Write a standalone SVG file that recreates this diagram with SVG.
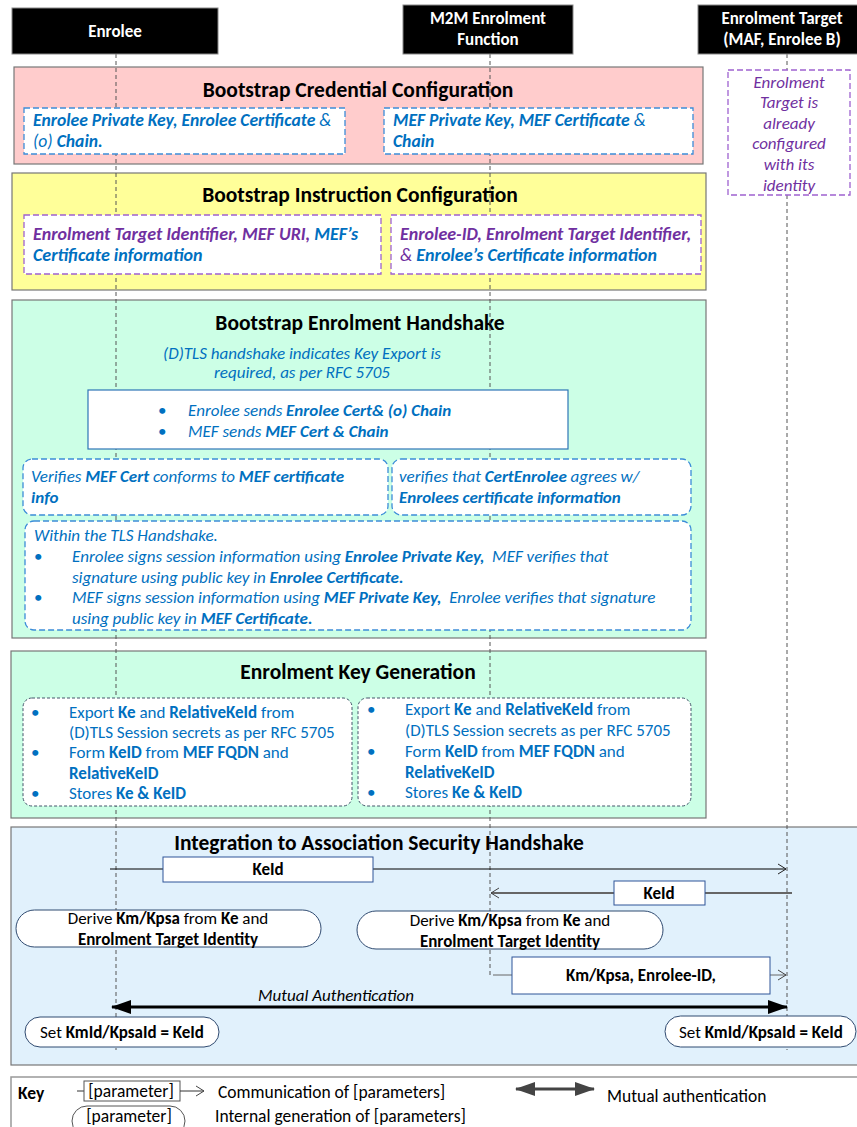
<svg xmlns="http://www.w3.org/2000/svg" width="857" height="1127" viewBox="0 0 857 1127">
<defs>
<style>
text{font-family:Carlito,Lato,"Liberation Sans",sans-serif;font-size:17px}
.b{font-weight:bold}
.i{font-style:italic}
.bi{font-size:17.6px}
.blue{fill:#0070C0}
.pur{fill:#7030A0}
.hdr{fill:#000;stroke:#888;stroke-width:1}
.hdrt{fill:#fff;font-weight:bold;font-size:17px;text-anchor:middle}
.sec{stroke:#777;stroke-width:1.2}
.title{font-weight:bold;font-size:21.5px;text-anchor:middle;fill:#000}
.life{stroke:#555;stroke-width:1;stroke-dasharray:4,3;fill:none}
.dblue{fill:#fff;stroke:#3C8DD8;stroke-width:1.3;stroke-dasharray:6,3}
.dpur{fill:#fff;stroke:#9E62D0;stroke-width:1.3;stroke-dasharray:6,3}
.dgray{fill:#fff;stroke:#44546A;stroke-width:1;stroke-dasharray:3,2}
.msg{fill:#fff;stroke:#2F5597;stroke-width:1}
.pill{fill:#fff;stroke:#2F4A70;stroke-width:1}
.c{text-anchor:middle}
.k{font-size:17.5px}
</style>
<marker id="open" viewBox="0 0 10 12" refX="9" refY="6" markerWidth="10" markerHeight="12" markerUnits="userSpaceOnUse" orient="auto">
<polyline points="1,1 9,6 1,11" fill="none" stroke="#222" stroke-width="1"/>
</marker>
<marker id="open2" viewBox="0 0 10 12" refX="9" refY="6" markerWidth="10" markerHeight="12" markerUnits="userSpaceOnUse" orient="auto">
<polyline points="1,1 9,6 1,11" fill="none" stroke="#444" stroke-width="1"/>
</marker>
<marker id="solid" viewBox="0 0 20 14" refX="19" refY="7" markerWidth="20" markerHeight="14" markerUnits="userSpaceOnUse" orient="auto-start-reverse">
<path d="M0,0 L20,7 L0,14 Z" fill="#000"/>
</marker>
<marker id="solidg" viewBox="0 0 20 14" refX="19" refY="7" markerWidth="20" markerHeight="14" markerUnits="userSpaceOnUse" orient="auto-start-reverse">
<path d="M0,0 L20,7 L0,14 Z" fill="#444"/>
</marker>
</defs>
<rect width="857" height="1127" fill="#fff"/>

<!-- Sections -->
<g id="sec-credential">
<rect class="sec" x="14" y="67" width="689" height="97" fill="#FFCCCC"/>
<text class="title" x="358" y="97">Bootstrap Credential Configuration</text>
</g>
<g id="sec-instruction">
<rect class="sec" x="12" y="173" width="694" height="117" fill="#FFFF99"/>
<text class="title" x="360" y="202">Bootstrap Instruction Configuration</text>
</g>
<g id="sec-handshake">
<rect class="sec" x="12" y="300" width="694" height="338" fill="#CCFFE6"/>
<text class="title" x="360" y="330">Bootstrap Enrolment Handshake</text>
</g>
<g id="sec-keygen">
<rect class="sec" x="11" y="651" width="695" height="167" fill="#CCFFE6"/>
<text class="title" x="358" y="679">Enrolment Key Generation</text>
</g>
<g id="sec-integration">
<rect class="sec" x="11" y="827" width="850" height="238" fill="#E1F1FC"/>
<text class="title" x="379" y="850">Integration to Association Security Handshake</text>
</g>

<!-- Lifelines -->
<g id="lifelines">
<line class="life" x1="116" y1="54" x2="116" y2="1050"/>
<line class="life" x1="490" y1="54" x2="490" y2="975"/>
<line class="life" x1="787" y1="54" x2="787" y2="70"/>
<line class="life" x1="787" y1="195" x2="787" y2="1050"/>
</g>

<!-- Headers -->
<g id="enrolee">
<rect class="hdr" x="12" y="8" width="206" height="46"/>
<text class="hdrt" x="115" y="37">Enrolee</text>
</g>
<g id="mef">
<rect class="hdr" x="403" y="5" width="170" height="49"/>
<text class="hdrt" x="488" y="24">M2M Enrolment</text>
<text class="hdrt" x="488" y="45">Function</text>
</g>
<g id="target">
<rect class="hdr" x="698" y="5" width="162" height="49"/>
<text class="hdrt" x="782" y="24">Enrolment Target</text>
<text class="hdrt" x="782" y="45">(MAF, Enrolee B)</text>
</g>

<!-- Credential boxes -->
<g id="cred-enrolee">
<rect class="dblue" x="24" y="108" width="321" height="46"/>
<text class="blue i bi" x="33" y="126"><tspan class="b">Enrolee Private Key, Enrolee Certificate</tspan> &amp;</text>
<text class="blue i bi" x="33" y="147">(o) <tspan class="b">Chain.</tspan></text>
</g>
<g id="cred-mef">
<rect class="dblue" x="384" y="108" width="309" height="46"/>
<text class="blue i bi" x="393" y="126"><tspan class="b">MEF Private Key, MEF Certificate</tspan> &amp;</text>
<text class="blue i b bi" x="393" y="147">Chain</text>
</g>
<g id="target-config">
<rect class="dpur" x="728" y="70" width="122" height="125"/>
<text class="pur i c" x="789" y="88">Enrolment</text>
<text class="pur i c" x="789" y="108">Target is</text>
<text class="pur i c" x="789" y="129">already</text>
<text class="pur i c" x="789" y="149">configured</text>
<text class="pur i c" x="789" y="170">with its</text>
<text class="pur i c" x="789" y="191">identity</text>
</g>

<!-- Instruction boxes -->
<g id="instr-enrolee">
<rect class="dpur" x="24" y="215" width="357" height="59"/>
<text class="i b" x="33" y="240" style="font-size:18px"><tspan class="pur">Enrolment Target Identifier, MEF URI,</tspan><tspan class="blue"> MEF’s</tspan></text>
<text class="i b blue" x="33" y="261" style="font-size:18px">Certificate information</text>
</g>
<g id="instr-mef">
<rect class="dpur" x="391" y="215" width="310" height="59"/>
<text class="i b pur" x="400" y="240" style="font-size:18px">Enrolee-ID, Enrolment Target Identifier,</text>
<text class="i pur" x="400" y="261" style="font-size:18px">&amp; <tspan class="b blue">Enrolee’s Certificate information</tspan></text>
</g>

<!-- Handshake -->
<g id="hs-intro">
<text class="blue i c" x="302" y="359">(D)TLS handshake indicates Key Export is</text>
<text class="blue i c" x="302" y="378">required, as per RFC 5705</text>
</g>
<g id="hs-certs">
<rect x="88" y="390" width="480" height="59" fill="#fff" stroke="#2E75B6" stroke-width="1.2"/>
<text class="blue" x="158" y="416">•</text>
<text class="blue" x="158" y="437">•</text>
<text class="blue i" x="188" y="416">Enrolee sends <tspan class="b">Enrolee Cert&amp; (o) Chain</tspan></text>
<text class="blue i" x="188" y="437">MEF sends <tspan class="b">MEF Cert &amp; Chain</tspan></text>
</g>
<g id="hs-verify-enrolee">
<rect class="dblue" x="23" y="459" width="365" height="56" rx="9"/>
<text class="blue i" x="31" y="482">Verifies <tspan class="b">MEF Cert</tspan> conforms to <tspan class="b">MEF certificate</tspan></text>
<text class="blue i b" x="31" y="503">info</text>
</g>
<g id="hs-verify-mef">
<rect class="dblue" x="392" y="459" width="299" height="56" rx="9"/>
<text class="blue i" x="399" y="482">verifies that <tspan class="b">CertEnrolee</tspan> agrees w/</text>
<text class="blue i b" x="399" y="503">Enrolees certificate information</text>
</g>
<g id="hs-sign">
<rect class="dblue" x="25" y="521" width="666" height="109" rx="9"/>
<text class="blue i" x="34" y="541">Within the TLS Handshake.</text>
<text class="blue" x="34" y="562">•</text>
<text class="blue" x="34" y="603">•</text>
<text class="blue i" x="72" y="562">Enrolee signs session information using <tspan class="b">Enrolee Private Key,</tspan>&#160; MEF verifies that</text>
<text class="blue i" x="72" y="583">signature using public key in <tspan class="b">Enrolee Certificate.</tspan></text>
<text class="blue i" x="72" y="603">MEF signs session information using <tspan class="b">MEF Private Key,</tspan>&#160; Enrolee verifies that signature</text>
<text class="blue i" x="72" y="624">using public key in <tspan class="b">MEF Certificate.</tspan></text>
</g>

<!-- Key generation -->
<g id="kg-enrolee">
<rect class="dgray" x="23" y="698" width="329" height="108" rx="9"/>
<text class="blue" x="31" y="718">•</text>
<text class="blue" x="31" y="758">•</text>
<text class="blue" x="31" y="799">•</text>
<text class="blue" x="69" y="718">Export <tspan class="b">Ke</tspan> and <tspan class="b">RelativeKeId</tspan> from</text>
<text class="blue" x="69" y="738">(D)TLS Session secrets as per RFC 5705</text>
<text class="blue" x="69" y="758">Form <tspan class="b">KeID</tspan> from <tspan class="b">MEF FQDN</tspan> and</text>
<text class="blue b" x="69" y="779">RelativeKeID</text>
<text class="blue" x="69" y="799">Stores <tspan class="b">Ke &amp; KeID</tspan></text>
</g>
<g id="kg-mef">
<rect class="dgray" x="358" y="698" width="333" height="108" rx="9"/>
<text class="blue" x="367" y="715">•</text>
<text class="blue" x="367" y="757">•</text>
<text class="blue" x="367" y="798">•</text>
<text class="blue" x="405" y="715">Export <tspan class="b">Ke</tspan> and <tspan class="b">RelativeKeId</tspan> from</text>
<text class="blue" x="405" y="736">(D)TLS Session secrets as per RFC 5705</text>
<text class="blue" x="405" y="757">Form <tspan class="b">KeID</tspan> from <tspan class="b">MEF FQDN</tspan> and</text>
<text class="blue b" x="405" y="778">RelativeKeID</text>
<text class="blue" x="405" y="798">Stores <tspan class="b">Ke &amp; KeID</tspan></text>
</g>

<!-- Connectors -->
<g id="connectors">
<line x1="110" y1="869" x2="786" y2="869" stroke="#000" stroke-width="1" marker-end="url(#open)"/>
<line x1="792" y1="893" x2="491" y2="893" stroke="#666" stroke-width="2" marker-end="url(#open2)"/>
<line x1="493" y1="975" x2="786" y2="975" stroke="#666" stroke-width="1" marker-end="url(#open2)"/>
<line x1="112" y1="1007" x2="787" y2="1007" stroke="#000" stroke-width="3" marker-start="url(#solid)" marker-end="url(#solid)"/>
</g>

<!-- Integration nodes -->
<g id="msg-keid-1">
<rect class="msg" x="163" y="857" width="210" height="25"/>
<text class="b c" x="268" y="875">KeId</text>
</g>
<g id="msg-keid-2">
<rect class="msg" x="614" y="881" width="91" height="24"/>
<text class="b c" x="659" y="899">KeId</text>
</g>
<g id="derive-enrolee">
<rect class="pill" x="16" y="910" width="305" height="37" rx="18.5"/>
<text class="c" x="168" y="924">Derive <tspan class="b">Km/Kpsa</tspan> from <tspan class="b">Ke</tspan> and</text>
<text class="c b" x="168" y="945">Enrolment Target Identity</text>
</g>
<g id="derive-mef">
<rect class="pill" x="357" y="911" width="306" height="38" rx="19"/>
<text class="c" x="510" y="926">Derive <tspan class="b">Km/Kpsa</tspan> from <tspan class="b">Ke</tspan> and</text>
<text class="c b" x="510" y="947">Enrolment Target Identity</text>
</g>
<g id="msg-kmkpsa">
<rect class="msg" x="512" y="957" width="258" height="37"/>
<text class="c b" x="641" y="981">Km/Kpsa, Enrolee-ID,</text>
</g>
<g id="mutual-label">
<text class="i c" x="336" y="1001">Mutual Authentication</text>
</g>
<g id="set-enrolee">
<rect class="pill" x="25" y="1017" width="194" height="30" rx="15" stroke="#333"/>
<text class="c" x="122" y="1038">Set <tspan class="b">KmId/KpsaId = KeId</tspan></text>
</g>
<g id="set-target">
<rect class="pill" x="665" y="1016" width="191" height="31" rx="15.5" stroke="#333"/>
<text class="c" x="761" y="1038">Set <tspan class="b">KmId/KpsaId = KeId</tspan></text>
</g>

<!-- Key -->
<g id="key">
<rect x="11" y="1077" width="860" height="60" fill="#fff" stroke="#999" stroke-width="1.5"/>
<text class="b k" x="18" y="1099">Key</text>
<line x1="77" y1="1091" x2="84" y2="1091" stroke="#333"/>
<rect x="84" y="1081" width="96" height="20" fill="#fff" stroke="#555"/>
<text class="c k" x="131" y="1097">[parameter]</text>
<line x1="180" y1="1091" x2="204" y2="1091" stroke="#333" marker-end="url(#open2)"/>
<text class="k" x="218" y="1098">Communication of [parameters]</text>
<rect x="72" y="1106" width="113" height="30" rx="15" fill="#fff" stroke="#555"/>
<text class="c k" x="129" y="1122">[parameter]</text>
<text class="k" x="215" y="1122">Internal generation of [parameters]</text>
<line x1="516" y1="1089" x2="594" y2="1089" stroke="#444" stroke-width="3" marker-start="url(#solidg)" marker-end="url(#solidg)"/>
<text class="k" x="607" y="1102">Mutual authentication</text>
</g>
</svg>
